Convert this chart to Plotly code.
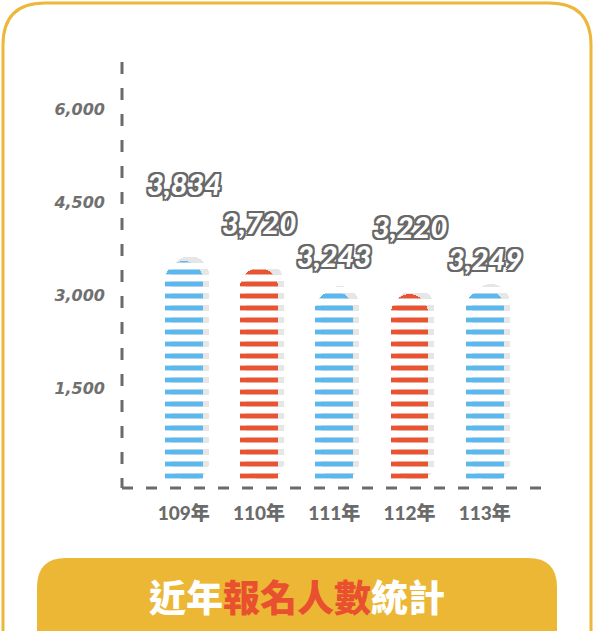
import plotly.graph_objects as go

# Data
years = ['109年', '110年', '111年', '112年', '113年']
applicants = [3834, 3720, 3243, 3220, 3249]          # printed labels
bar_heights = [3550, 3430, 3070, 3020, 3090]         # drawn bar heights
bar_colors = ['#5BB8EE', '#EA5330', '#5BB8EE', '#EA5330', '#5BB8EE']
y_ticks = [1500, 3000, 4500, 6000]

W, H = 594, 631

# label lift above each bar top (px)
label_lift = [77, 46, 35, 67, 31]


def px(x, y):
    return x / W, 1 - y / H


def path(points):
    out = []
    for cmd, pts in points:
        coords = ' '.join('%.5f,%.5f' % px(*p) for p in pts)
        out.append(cmd + coords)
    return ' '.join(out)


# shadow bar: shifted a little right and up
shadow_dx = 0.08
shadow_dy = 80

fig = go.Figure()

fig.add_trace(go.Bar(
    x=years, y=[h + shadow_dy for h in bar_heights], base=0,
    width=0.5, offset=-0.25 + shadow_dx,
    marker=dict(color='#ffffff', cornerradius='50%', line=dict(width=0),
                pattern=dict(shape='-', fgcolor='#e6e6e6', bgcolor='#ffffff',
                             size=12, solidity=0.5, fillmode='replace')),
    hoverinfo='skip', showlegend=False))

fig.add_trace(go.Bar(
    x=years, y=bar_heights, width=0.5, offset=-0.25,
    marker=dict(color='rgba(0,0,0,0)', cornerradius='50%', line=dict(width=0),
                pattern=dict(shape='-', fgcolor=bar_colors, bgcolor='rgba(0,0,0,0)',
                             size=12, solidity=0.4, fillmode='replace')),
    showlegend=False))

outline = ', '.join('%.1fpx %.1fpx 0 #686868' % (dx, dy)
                    for dx in (-2, 0, 2) for dy in (-2, 0, 2) if dx or dy)

for yr, h, v, lift in zip(years, bar_heights, applicants, label_lift):
    fig.add_annotation(x=yr, y=h, text=f'{v:,}', showarrow=False,
                       yanchor='middle', yshift=lift,
                       font=dict(family='Lato', size=29, color='#ffffff',
                                 weight=900, style='italic', shadow=outline))

# dashed axes
ax_l, ax_r, ax_t, ax_b = 122, 548, 62, 488
fig.add_shape(type='line', xref='paper', yref='paper',
              x0=px(ax_l, 0)[0], x1=px(ax_l, 0)[0], y0=px(0, ax_t)[1], y1=px(0, ax_b)[1],
              line=dict(color='#6b6b6b', width=3, dash='12px,14px'))
fig.add_shape(type='line', xref='paper', yref='paper',
              x0=px(ax_l, 0)[0], x1=px(ax_r, 0)[0], y0=px(0, ax_b)[1], y1=px(0, ax_b)[1],
              line=dict(color='#6b6b6b', width=3, dash='11px,13px'))

# yellow frame
r = 42
fig.add_shape(type='path', xref='paper', yref='paper', layer='above',
              path=path([('M', [(3, H)]), ('L', [(3, 3 + r)]),
                         ('Q', [(3, 3), (3 + r, 3)]), ('L', [(591 - r, 3)]),
                         ('Q', [(591, 3), (591, 3 + r)]), ('L', [(591, H)])]),
              line=dict(color='#ECB73B', width=3))

# bottom banner
rb = 29
fig.add_shape(type='path', xref='paper', yref='paper',
              path=path([('M', [(37, H)]), ('L', [(37, 558 + rb)]),
                         ('Q', [(37, 558), (37 + rb, 558)]), ('L', [(557 - rb, 558)]),
                         ('Q', [(557, 558), (557, 558 + rb)]), ('L', [(557, H)])]) + ' Z',
              fillcolor='#EBB735', line=dict(width=0))

fig.add_annotation(xref='paper', yref='paper', x=px(297, 0)[0], y=px(0, 596)[1],
                   text="近年<span style='color:#E8502F'>報名人數</span>統計",
                   showarrow=False, xanchor='center', yanchor='middle',
                   font=dict(family='Noto Sans CJK TC', size=37, color='#ffffff', weight=900))

fig.update_layout(
    width=W, height=H, margin=dict(l=0, r=0, t=0, b=0),
    paper_bgcolor='#ffffff', plot_bgcolor='#ffffff',
    barmode='overlay', bargap=0,
    xaxis=dict(domain=[ax_l / W, ax_r / W], range=[-0.82, 4.84], type='category',
               showgrid=False, zeroline=False, showline=False, ticks='',
               ticklabelstandoff=12,
               tickfont=dict(family='Lato, Noto Sans CJK TC', size=19,
                             color='#6b6b6b', weight=900)),
    yaxis=dict(domain=[1 - ax_b / H, 1 - ax_t / H], range=[-113, 6758],
               tickvals=y_ticks, ticktext=[f'{t:,}' for t in y_ticks],
               showgrid=False, zeroline=False, showline=False, ticks='',
               ticklabelstandoff=16,
               tickfont=dict(family='DejaVu Sans', size=16, color='#707070',
                             weight='bold', style='italic')),
)

fig.write_html('out.html', config={'displayModeBar': False},
               post_script="document.body.style.margin='0';")
